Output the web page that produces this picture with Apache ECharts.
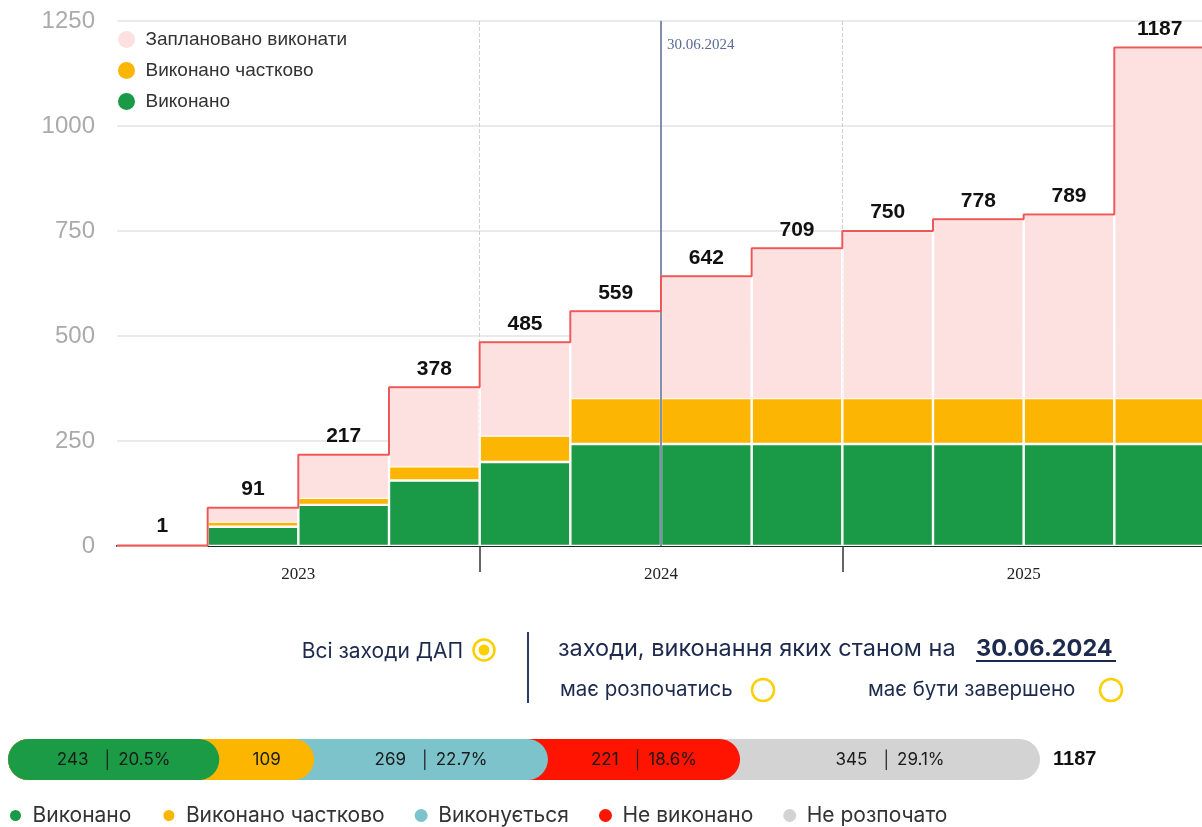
<!DOCTYPE html>
<html><head><meta charset="utf-8">
<script src="https://cdn.jsdelivr.net/npm/echarts@6/dist/echarts.min.js"></script>
<style>html,body{margin:0;padding:0;background:#fff;}#c{width:1202px;height:827px;}</style>
</head><body><div id="c"></div><script>
const quarters = ['2023 Q1','2023 Q2','2023 Q3','2023 Q4','2024 Q1','2024 Q2','2024 Q3','2024 Q4','2025 Q1','2025 Q2','2025 Q3','2025 Q4'];
const years = ['2023','2024','2025'];
const planned = [1,91,217,378,485,559,642,709,750,778,789,1187];
const done = [1,46,98,156,200,243,243,243,243,243,243,243];
const partial = [0,12,17,34,63,109,109,109,109,109,109,109];
const yTicks = [0,250,500,750,1000,1250];
const reportIndex = 6;
const reportDate = '30.06.2024';
const statusNames = ['Виконано','Виконано частково','Виконується','Не виконано','Не розпочато'];
const statusCounts = [243,109,269,221,345];
const statusColors = ['#1c9b47','#fcb600','#7cc3cb','#fe1400','#d3d3d3'];

const total = statusCounts.reduce((a,b)=>a+b,0);
const cum = []; statusCounts.reduce((a,b,i)=>{cum[i]=a+b;return a+b;},0);
const steps = planned.map((v,i)=>[i,v]).concat([[planned.length, planned[planned.length-1]]]);
const SANS = 'Liberation Sans, Arial, sans-serif';
const UI = 'Inter, Roboto, sans-serif';
const navy = '#1d2a4e';

const series = [
  {name:'Заплановано виконати', type:'bar', xAxisIndex:0, yAxisIndex:0, data:planned,
   barWidth:'100%', barGap:'-100%', itemStyle:{color:'#fde1e1', borderColor:'#fff', borderWidth:1.2},
   label:{show:true, position:'top', distance:8, fontSize:21, fontWeight:'bold', color:'#111', fontFamily:SANS}},
  {name:'Виконано', type:'bar', stack:'d', xAxisIndex:0, yAxisIndex:0, data:done,
   barWidth:'100%', barGap:'-100%', itemStyle:{color:'#1a9a46', borderColor:'#fff', borderWidth:1.2}},
  {name:'Виконано частково', type:'bar', stack:'d', xAxisIndex:0, yAxisIndex:0, data:partial,
   barWidth:'100%', barGap:'-100%', itemStyle:{color:'#fdb503', borderColor:'#fff', borderWidth:1.2}},
  {name:'plan-line', type:'line', xAxisIndex:2, yAxisIndex:0, data:steps, step:'end', symbol:'none', z:5,
   lineStyle:{color:'#ef5656', width:2},
   markLine:{silent:true, symbol:'none', data:[{xAxis:reportIndex}], lineStyle:{color:'#5b6a95', width:1.5, type:'solid'}, label:{show:false}},
   markPoint:{symbol:'circle', symbolSize:0, data:[{coord:[reportIndex, yTicks[yTicks.length-1]]}],
     label:{show:true, position:'right', distance:6, offset:[0,24], formatter:reportDate, fontFamily:'Liberation Serif, serif', fontSize:15, color:'#5b6a95'}}}
];
statusNames.forEach((n,i)=>{
  series.push({name:n, type:'bar', xAxisIndex:3, yAxisIndex:1, data:[cum[i]], barWidth:41, barGap:'-100%', z:20-i,
    itemStyle:{color:statusColors[i], borderRadius:21},
    label: i===statusNames.length-1 ? {show:true, position:'right', distance:13, formatter:String(total), fontSize:20, fontWeight:'bold', color:'#111', fontFamily:SANS} : {show:false}});
});
statusNames.forEach((n,i)=>{
  const pct = (statusCounts[i]/total*100).toFixed(1);
  series.push({name:'lbl'+i, type:'bar', stack:'lbl', xAxisIndex:3, yAxisIndex:1, data:[statusCounts[i]], barWidth:41, barGap:'-100%', z:40,
    itemStyle:{color:'rgba(0,0,0,0)'},
    label:{show:true, position:'inside', fontFamily:UI, fontSize:17, color:'#1a1a1a',
      formatter: i===1 ? String(statusCounts[i]) : statusCounts[i] + '   │ ' + pct + '%'}});
});

const chart = echarts.init(document.getElementById('c'), null, {renderer:'canvas'});
chart.setOption({
  animation:false,
  backgroundColor:'#fff',
  grid:[{left:117, top:21, width:1088, height:525, outerBoundsMode:'none', containLabel:false},
        {left:8, top:739, width:1032, height:41, outerBoundsMode:'none'}],
  legend:[
    {data:['Заплановано виконати','Виконано частково','Виконано'], orient:'vertical', left:111, top:24,
     icon:'circle', itemWidth:28, itemHeight:19, itemGap:10, selectedMode:false,
     textStyle:{fontSize:19, color:'#333', fontFamily:SANS}},
    {data:statusNames, orient:'horizontal', left:3, top:800, icon:'circle', itemWidth:24, itemHeight:13, itemGap:30, selectedMode:false,
     textStyle:{fontSize:21, color:'#333', fontFamily:UI}}
  ],
  xAxis:[
    {type:'category', gridIndex:0, data:quarters, show:false, boundaryGap:true},
    {type:'category', gridIndex:0, data:years, position:'bottom', boundaryGap:true,
     axisLine:{show:true, lineStyle:{color:'#222', width:2}},
     axisTick:{show:true, length:26, interval:(i)=>i!==0, lineStyle:{color:'#333', width:1.5}},
     axisLabel:{fontFamily:'Liberation Serif, serif', fontSize:17, color:'#222', margin:20},
     splitLine:{show:true, showMinLine:false, lineStyle:{type:'dashed', color:'#cfcfcf', width:1}}},
    {type:'value', gridIndex:0, min:0, max:quarters.length, show:false},
    {type:'value', gridIndex:1, min:0, max:total, show:false}
  ],
  yAxis:[
    {type:'value', gridIndex:0, min:yTicks[0], max:yTicks[yTicks.length-1], interval:yTicks[1]-yTicks[0],
     axisLine:{show:false}, axisTick:{show:false},
     axisLabel:{fontSize:24, color:'#aaa', fontFamily:SANS, margin:22, formatter:(v)=>String(v)},
     splitLine:{lineStyle:{color:'#e3e3e3', width:1.5}}},
    {type:'category', gridIndex:1, data:['all'], show:false}
  ],
  graphic:[
    {type:'text', x:463, y:652, style:{text:'Всі заходи ДАП', align:'right', verticalAlign:'middle', fontSize:21, fontFamily:UI, fill:navy}},
    {type:'circle', shape:{cx:484, cy:650, r:10.5}, style:{fill:'none', stroke:'#fbcf00', lineWidth:2.5}},
    {type:'circle', shape:{cx:484, cy:650, r:5.5}, style:{fill:'#fbcf00'}},
    {type:'line', shape:{x1:528, y1:632, x2:528, y2:703}, style:{stroke:'#2c3a66', lineWidth:2}},
    {type:'text', x:558, y:649, style:{text:'заходи, виконання яких станом на', verticalAlign:'middle', fontSize:23.5, fontFamily:UI, fill:navy}},
    {type:'text', x:976, y:649, style:{text:reportDate, verticalAlign:'middle', fontSize:23.5, fontWeight:'bold', fontFamily:UI, fill:navy}},
    {type:'line', shape:{x1:976, y1:661, x2:1116, y2:661}, style:{stroke:navy, lineWidth:2}},
    {type:'text', x:560, y:690, style:{text:'має розпочатись', verticalAlign:'middle', fontSize:20.5, fontFamily:UI, fill:navy}},
    {type:'circle', shape:{cx:763, cy:690, r:11}, style:{fill:'none', stroke:'#fbcf00', lineWidth:2.5}},
    {type:'text', x:868, y:690, style:{text:'має бути завершено', verticalAlign:'middle', fontSize:20.5, fontFamily:UI, fill:navy}},
    {type:'circle', shape:{cx:1111, cy:690, r:11}, style:{fill:'none', stroke:'#fbcf00', lineWidth:2.5}}
  ],
  series: series
});
</script></body></html>
